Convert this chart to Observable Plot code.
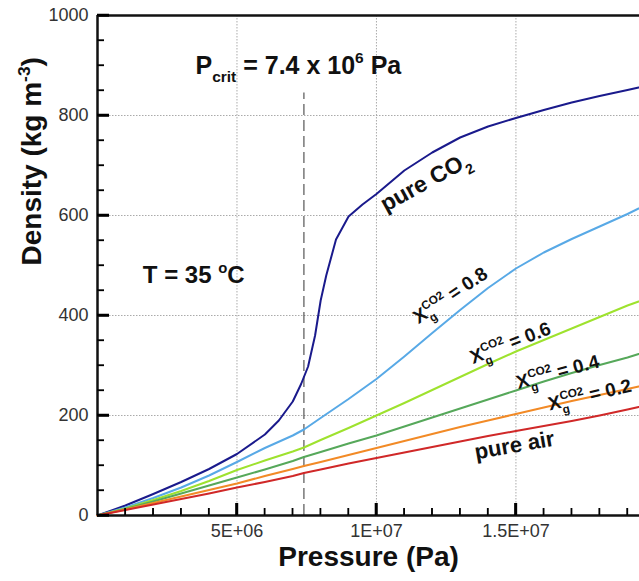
<!DOCTYPE html>
<html><head><meta charset="utf-8">
<script src="https://cdn.jsdelivr.net/npm/d3@7"></script>
<script src="https://cdn.jsdelivr.net/npm/@observablehq/plot@0.6"></script>
<style>
html,body{margin:0;padding:0;background:#fff;overflow:hidden}
#chart svg{display:block}
</style></head><body><div id="chart"></div>
<script>
// ---- data (pressure in MPa, density in kg/m3) ----
const seriesNames = ["pure CO2", "X=0.8", "X=0.6", "X=0.4", "X=0.2", "pure air"];
const seriesColors = ["#1a1a8c", "#58a9e6", "#9ee22e", "#56a85a", "#f28a26", "#d02828"];

const pressureCO2 = [0, 1, 2, 3, 4, 5, 6, 6.5, 7, 7.3, 7.55, 7.8, 8.0, 8.2, 8.55, 9.0, 9.5, 10, 11, 12, 13, 14, 15, 16, 17, 18, 19, 19.4];
const densityCO2  = [0, 20, 43, 67, 93, 123, 162, 190, 228, 263, 298, 360, 430, 480, 552, 598, 622, 643, 690, 726, 756, 778, 795, 811, 826, 839, 851, 856];

const pressureMix = [0, 1, 2, 3, 4, 5, 6, 7, 7.4, 8, 9, 10, 11, 12, 13, 14, 15, 16, 17, 18, 19, 19.4];
const densityX08  = [0, 16, 35, 56, 80, 107, 135, 160, 172, 195, 233, 273, 318, 365, 411, 455, 494, 526, 553, 578, 603, 614];
const densityX06  = [0, 14, 31, 49, 69, 91, 110, 128, 136, 151, 175, 200, 225, 251, 277, 303, 328, 351, 374, 397, 420, 428];
const densityX04  = [0, 13, 28, 44, 60, 76, 92, 109, 117, 127, 144, 160, 178, 196, 214, 232, 250, 268, 285, 301, 316, 323];
const densityX02  = [0, 12, 25, 38, 51, 64, 79, 93, 99, 107, 121, 135, 149, 163, 177, 190, 203, 216, 229, 241, 253, 258];
const densityAir  = [0, 11, 22, 33, 44, 56, 67, 79, 85, 92, 104, 115, 126, 137, 148, 159, 169, 179, 189, 200, 212, 217];

const xMajorTicks = [5e6, 1e7, 1.5e7];
const xTickLabels = ["5E+06", "1E+07", "1.5E+07"];
const xMinorTicks = [1e6, 2e6, 3e6, 4e6, 6e6, 7e6, 8e6, 9e6, 11e6, 12e6, 13e6, 14e6, 16e6, 17e6, 18e6, 19e6];
const yMajorTicks = [0, 200, 400, 600, 800, 1000];
const yMinorTicks = [50, 100, 150, 250, 300, 350, 450, 500, 550, 650, 700, 750, 850, 900, 950];

const pCrit = 7.4e6;
const pCritLineTop = 845;

const annotations = [
  {text: "P_{crit} = 7.4 x 10^{6} Pa", x: 7.2e6, y: 900, rotate: 0, size: 25},
  {text: "T = 35 ^{o}C", x: 3.45e6, y: 480, rotate: 0, size: 24},
  {text: "pure CO_{2}", x: 11.75e6, y: 667, rotate: -29, size: 23},
  {text: "X_{g}^{CO2} = 0.8", x: 12.65e6, y: 440, rotate: -34, size: 19},
  {text: "X_{g}^{CO2} = 0.6", x: 14.8e6, y: 345, rotate: -21, size: 19},
  {text: "X_{g}^{CO2} = 0.4", x: 16.5e6, y: 287, rotate: -15, size: 19},
  {text: "X_{g}^{CO2} = 0.2", x: 17.65e6, y: 241, rotate: -13, size: 19},
  {text: "pure air", x: 14.95e6, y: 140, rotate: -10, size: 22}
];

// tick lengths (data units along each axis, and pixels)
const xTickMajorLenData = 24, xTickMinorLenData = 14;        // density units
const yTickMajorLenData = 430000, yTickMinorLenData = 250000; // pascal units
const majorLenPx = 12, minorLenPx = 7;

// ---- build table ----
const rows = [];
pressureCO2.forEach((p, i) => rows.push({series: seriesNames[0], P: p * 1e6, D: densityCO2[i]}));
[densityX08, densityX06, densityX04, densityX02, densityAir].forEach((arr, k) =>
  arr.forEach((d, i) => rows.push({series: seriesNames[k + 1], P: pressureMix[i] * 1e6, D: d})));

const font = "'Liberation Sans', Arial, Helvetica, sans-serif";

const chart = Plot.plot({
  width: 639, height: 581,
  marginLeft: 97, marginRight: 0, marginTop: 15, marginBottom: 66,
  x: {domain: [0, 19.43e6]},
  y: {domain: [0, 1000]},
  color: {domain: seriesNames, range: seriesColors},
  style: {fontFamily: font, background: "white"},
  marks: [
    Plot.gridX(xMajorTicks, {stroke: "#aaa", strokeOpacity: 1, strokeDasharray: "1.5,1.5"}),
    Plot.gridY(yMajorTicks.filter(d => d > 0 && d < 1000), {stroke: "#aaa", strokeOpacity: 1, strokeDasharray: "1.5,1.5"}),
    Plot.ruleX([pCrit], {y1: 0, y2: pCritLineTop, stroke: "#333", strokeWidth: 1, strokeDasharray: "11,5"}),
    Plot.line(rows, {x: "P", y: "D", z: "series", stroke: "series", strokeWidth: 2, curve: "linear"}),
    // inward ticks
    Plot.ruleX(xMajorTicks, {y1: 0, y2: xTickMajorLenData, stroke: "#000", strokeWidth: 2.5}),
    Plot.ruleX(xMinorTicks, {y1: 0, y2: xTickMinorLenData, stroke: "#000", strokeWidth: 1.3}),
    Plot.ruleY(yMajorTicks, {x1: 0, x2: yTickMajorLenData, stroke: "#000", strokeWidth: 2.5}),
    Plot.ruleY(yMinorTicks, {x1: 0, x2: yTickMinorLenData, stroke: "#000", strokeWidth: 1.3}),
    // frame
    Plot.ruleX([0], {stroke: "#111", strokeWidth: 2.5}),
    Plot.ruleY([0, 1000], {stroke: "#111", strokeWidth: 2.5}),
    // tick labels
    Plot.axisX(xMajorTicks, {tickSize: 0, tickPadding: 9, tickFormat: d => xTickLabels[xMajorTicks.indexOf(d)], fontSize: 18, fill: "#333", label: null}),
    Plot.axisY(yMajorTicks, {tickSize: 0, tickPadding: 9, tickFormat: d => String(d), fontSize: 18, fill: "#333", label: null}),
    Plot.text(annotations, {x: "x", y: "y", text: "text", rotate: "rotate", fontSize: d => d.size, fontWeight: "bold", fill: "#111", textAnchor: "middle", className: "rich"}),
    Plot.text(["Pressure (Pa)"], {text: d => d, frameAnchor: "bottom", dy: 50, fontSize: 28, fontWeight: "bold", fill: "#111"}),
    Plot.text(["Density (kg m^{-3})"], {text: d => d, frameAnchor: "left", dx: -65, rotate: -90, fontSize: 28, fontWeight: "bold", fill: "#111", className: "rich"})
  ]
});

document.getElementById("chart").appendChild(chart);

// ---- tick marks again, positioned through Plot's own scales (pixel lengths) ----
const xs = chart.scale("x"), ys = chart.scale("y");
const x0 = xs.apply(0), y0 = ys.apply(0);
const tg = d3.select(chart).append("g").attr("stroke", "#000");
const tickDefs = [
  ...xMajorTicks.map(v => ({x1: xs.apply(v), x2: xs.apply(v), y1: y0, y2: y0 - majorLenPx, w: 2.5})),
  ...xMinorTicks.map(v => ({x1: xs.apply(v), x2: xs.apply(v), y1: y0, y2: y0 - minorLenPx, w: 1.3})),
  ...yMajorTicks.map(v => ({x1: x0, x2: x0 + majorLenPx, y1: ys.apply(v), y2: ys.apply(v), w: 2.5})),
  ...yMinorTicks.map(v => ({x1: x0, x2: x0 + minorLenPx, y1: ys.apply(v), y2: ys.apply(v), w: 1.3}))
];
tg.selectAll("line").data(tickDefs).join("line")
  .attr("x1", d => d.x1).attr("x2", d => d.x2).attr("y1", d => d.y1).attr("y2", d => d.y2)
  .attr("stroke-width", d => d.w);

// ---- rich text: _{sub}, ^{sup}; a sup directly after a sub is stacked above it ----
const NS = "http://www.w3.org/2000/svg";
d3.select(chart).selectAll(".rich text").each(function () {
  const el = this;
  const s = el.textContent;
  const base = parseFloat(el.getAttribute("font-size")) || parseFloat(getComputedStyle(el).fontSize);
  el.textContent = "";
  let shift = 0, lastSub = null;
  const re = /([_^])\{([^}]*)\}|([^_^]+)/g;
  let m;
  while ((m = re.exec(s))) {
    const t = document.createElementNS(NS, "tspan");
    let target, size;
    if (m[1] === "_") { target = base * 0.33; size = base * 0.62; t.textContent = m[2]; }
    else if (m[1] === "^") { target = -base * 0.42; size = base * 0.62; t.textContent = m[2]; }
    else { target = 0; size = base; t.textContent = m[3]; }
    t.setAttribute("dy", (target - shift).toFixed(2));
    shift = target;
    t.setAttribute("font-size", size.toFixed(2));
    el.appendChild(t);
    if (m[1] === "^" && lastSub) t.setAttribute("dx", (-lastSub.getComputedTextLength()).toFixed(2));
    lastSub = m[1] === "_" ? t : null;
  }
});
</script></body></html>
